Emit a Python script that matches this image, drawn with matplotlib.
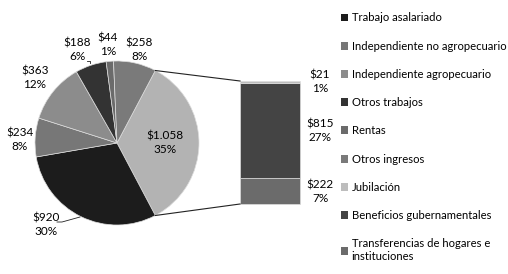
import numpy as np
import matplotlib.pyplot as plt
from matplotlib.patches import Patch

plt.rcParams['font.family'] = ['Lato', 'DejaVu Sans']

# pie categories (clockwise from the right-hand "other" slice)
pie_labels = ['Otros (detalle)', 'Trabajo asalariado', 'Independiente no agropecuario',
              'Independiente agropecuario', 'Otros trabajos', 'Rentas', 'Otros ingresos']
pie_values = [1058, 920, 234, 363, 188, 44, 258]
pie_text = ['$1.058\n35%', '$920\n30%', '$234\n8%', '$363\n12%', '$188\n6%', '$44\n1%', '$258\n8%']
pie_colors = ['#b3b3b3', '#1c1c1c', '#777777', '#8c8c8c', '#333333', '#6b6b6b', '#7a7a7a']

# bar breakdown (bottom to top)
bar_labels = ['Transferencias de hogares e\ninstituciones', 'Beneficios gubernamentales', 'Jubilación']
bar_values = [222, 815, 21]
bar_text = ['$222\n7%', '$815\n27%', '$21\n1%']
bar_colors = ['#6b6b6b', '#444444', '#bdbdbd']

legend_labels = ['Trabajo asalariado', 'Independiente no agropecuario', 'Independiente agropecuario',
                 'Otros trabajos', 'Rentas', 'Otros ingresos', 'Jubilación',
                 'Beneficios gubernamentales', 'Transferencias de hogares e\ninstituciones']
legend_colors = ['#1c1c1c', '#777777', '#8c8c8c', '#333333', '#6b6b6b', '#7a7a7a', '#bdbdbd',
                 '#444444', '#6b6b6b']

W, H = 508, 274
fig = plt.figure(figsize=(W / 100, H / 100), dpi=100)
ax = fig.add_axes([0, 0, 1, 1])

cx, cy, r = 117, H - 143, 82
frac0 = pie_values[0] / sum(pie_values)
start = frac0 * 180  # centre the detail slice on the right
wedges, _ = ax.pie(pie_values, colors=pie_colors, startangle=start, counterclock=False,
                   center=(cx, cy), radius=r, frame=True,
                   wedgeprops=dict(edgecolor='#dddddd', linewidth=0.5))
ax.set_xlim(0, W)
ax.set_ylim(0, H)
ax.set_aspect('equal')
ax.axis('off')

# pie labels
fs = 8.5
ax.text(cx + 48, cy, pie_text[0], ha='center', va='center', fontsize=fs, linespacing=1.3)
label_pos = {1: (46, H - 225), 2: (20, H - 140), 3: (35, H - 78), 4: (77, H - 50),
             5: (108, H - 45), 6: (139, H - 50)}
for i, (x, y) in label_pos.items():
    ax.text(x, y, pie_text[i], ha='center', va='center', fontsize=fs, linespacing=1.3)
# leader lines
ax.plot([57, 62, 80], [H - 222, H - 222, H - 217], color='#222222', lw=0.6)
ax.plot([87, 90, 90], [H - 61, H - 61, H - 63], color='#222222', lw=0.6)

# stacked bar
bx, bw = 270, 60
scale = 123 / sum(bar_values)
bottom = H - 204
for v, c in zip(bar_values, bar_colors):
    ax.bar(bx, v * scale, width=bw, bottom=bottom, color=c, edgecolor='#dddddd', linewidth=0.5)
    bottom += v * scale
text_y = [H - 192, H - 131, H - 82]
for t, y in zip(bar_text, text_y):
    ax.text(bx + 50, y, t, ha='center', va='center', fontsize=fs, linespacing=1.3)

# connector lines
ang = np.deg2rad(start)
ax.plot([cx + r * np.cos(ang), bx - bw / 2], [cy + r * np.sin(ang), H - 81], color='#222222', lw=0.8)
ax.plot([cx + r * np.cos(-ang), bx - bw / 2], [cy + r * np.sin(-ang), H - 204], color='#222222', lw=0.8)

handles = [Patch(facecolor=c, edgecolor='none') for c in legend_colors]
ax.legend(handles, legend_labels, loc='upper left', bbox_to_anchor=(336 / W, 1 - 8 / H),
          frameon=False, fontsize=8.1, handlelength=0.7, handleheight=0.7,
          handletextpad=0.3, labelspacing=1.53, borderaxespad=0)

fig.savefig('out.png', dpi=100)
